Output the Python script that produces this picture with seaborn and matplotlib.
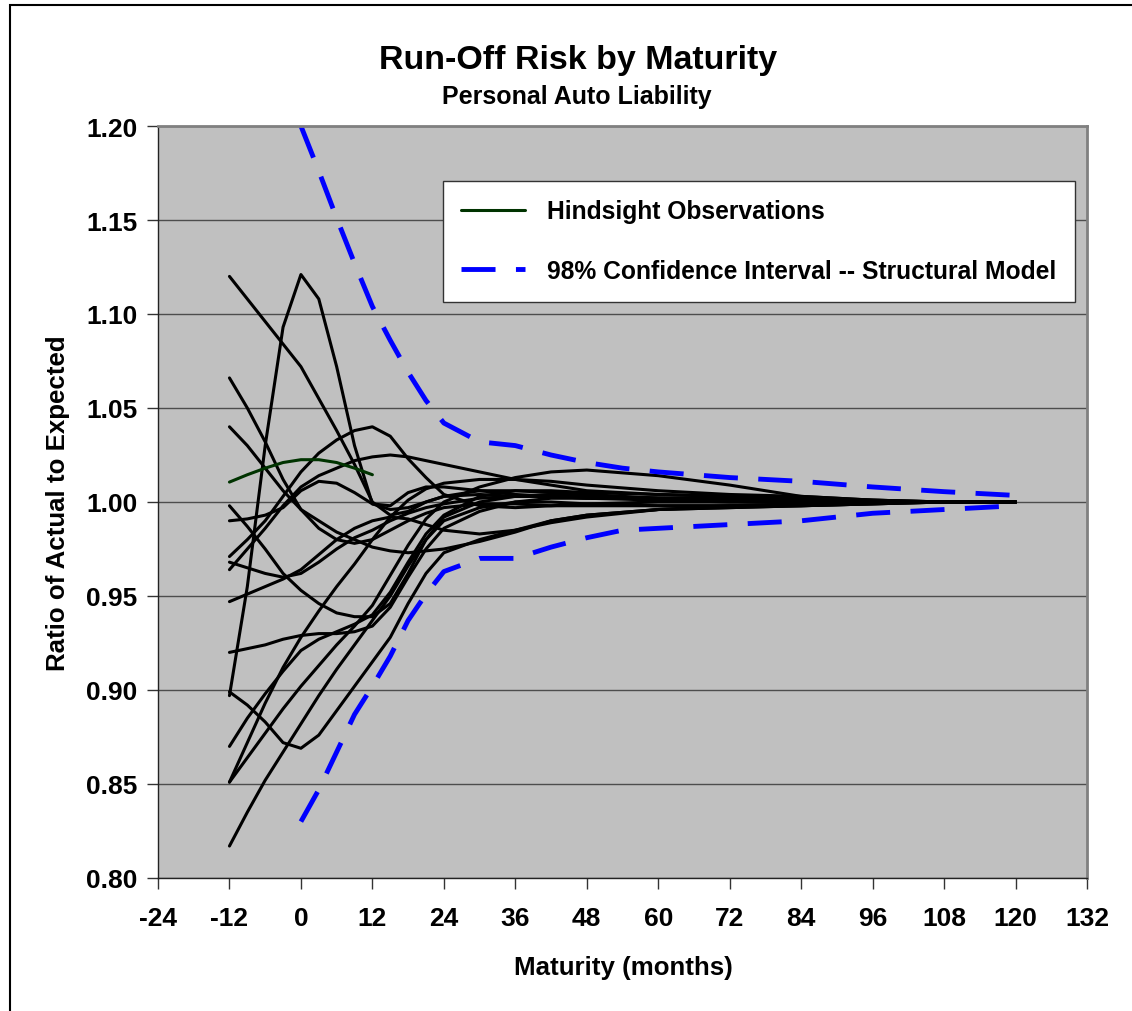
import numpy as np
import pandas as pd
import matplotlib
matplotlib.use("Agg")
import matplotlib.pyplot as plt
from matplotlib.lines import Line2D
from matplotlib.patches import Rectangle
import seaborn as sns

# meses de maduración (trimestral hasta 24, luego más espaciado)
months_obs = [-12, -9, -6, -3, 0, 3, 6, 9, 12, 15, 18, 21, 24, 30, 36, 42, 48, 60, 72, 84, 96, 108, 120]

obs_01 = [1.120, 1.108, 1.096, 1.084, 1.072, 1.055, 1.038, 1.020, 1.000, 0.993, 0.995, 1.000, 1.003, 1.006, 1.006, 1.005, 1.004, 1.002, 1.001, 1.000, 1.000, 1.000, 1.000]
obs_02 = [1.066, 1.050, 1.032, 1.012, 0.996, 0.986, 0.980, 0.978, 0.980, 0.985, 0.990, 0.994, 0.997, 0.999, 0.999, 0.998, 0.998, 0.998, 0.998, 0.999, 1.000, 1.000, 1.000]
obs_03 = [1.040, 1.030, 1.018, 1.006, 0.996, 0.990, 0.984, 0.980, 0.976, 0.974, 0.973, 0.974, 0.975, 0.979, 0.984, 0.990, 0.993, 0.996, 0.997, 0.998, 0.999, 1.000, 1.000]
obs_04 = [0.897, 0.955, 1.030, 1.093, 1.121, 1.108, 1.072, 1.030, 0.999, 0.998, 1.005, 1.008, 1.008, 1.006, 1.004, 1.003, 1.002, 1.001, 1.000, 1.000, 1.000, 1.000, 1.000]
obs_05 = [0.998, 0.987, 0.975, 0.962, 0.953, 0.946, 0.941, 0.939, 0.939, 0.946, 0.962, 0.980, 0.992, 1.000, 1.003, 1.004, 1.003, 1.002, 1.001, 1.000, 1.000, 1.000, 1.000]
obs_06 = [0.990, 0.991, 0.993, 0.997, 1.006, 1.011, 1.010, 1.005, 0.999, 0.996, 0.997, 1.000, 1.003, 1.004, 1.003, 1.003, 1.002, 1.002, 1.002, 1.001, 1.000, 1.000, 1.000]
obs_07 = [0.971, 0.980, 0.990, 1.003, 1.016, 1.026, 1.033, 1.038, 1.040, 1.035, 1.023, 1.013, 1.004, 0.998, 0.997, 0.998, 0.999, 1.000, 1.000, 1.000, 1.000, 1.000, 1.000]
obs_08 = [0.968, 0.965, 0.962, 0.960, 0.962, 0.968, 0.975, 0.981, 0.985, 0.990, 0.994, 0.997, 0.999, 1.002, 1.003, 1.003, 1.003, 1.002, 1.002, 1.001, 1.000, 1.000, 1.000]
obs_09 = [0.964, 0.975, 0.986, 0.998, 1.008, 1.014, 1.018, 1.022, 1.024, 1.025, 1.024, 1.022, 1.020, 1.016, 1.012, 1.009, 1.006, 1.004, 1.003, 1.001, 1.000, 1.000, 1.000]
obs_10 = [0.947, 0.951, 0.955, 0.959, 0.964, 0.972, 0.980, 0.986, 0.990, 0.992, 0.991, 0.988, 0.985, 0.983, 0.985, 0.989, 0.992, 0.996, 0.997, 0.998, 0.999, 1.000, 1.000]
obs_11 = [0.920, 0.922, 0.924, 0.927, 0.929, 0.930, 0.930, 0.931, 0.934, 0.944, 0.960, 0.975, 0.986, 0.995, 1.000, 1.002, 1.002, 1.002, 1.002, 1.001, 1.000, 1.000, 1.000]
obs_12 = [0.899, 0.892, 0.883, 0.872, 0.869, 0.876, 0.889, 0.902, 0.915, 0.928, 0.946, 0.962, 0.973, 0.980, 0.985, 0.990, 0.993, 0.996, 0.998, 0.998, 0.999, 1.000, 1.000]
obs_13 = [0.870, 0.885, 0.898, 0.910, 0.921, 0.927, 0.931, 0.935, 0.940, 0.952, 0.968, 0.983, 0.993, 1.003, 1.006, 1.006, 1.005, 1.004, 1.003, 1.002, 1.001, 1.000, 1.000]
obs_14 = [0.851, 0.872, 0.893, 0.912, 0.928, 0.942, 0.955, 0.967, 0.980, 0.992, 1.001, 1.007, 1.010, 1.012, 1.012, 1.011, 1.009, 1.006, 1.004, 1.003, 1.001, 1.000, 1.000]
obs_15 = [0.851, 0.864, 0.877, 0.890, 0.902, 0.913, 0.924, 0.934, 0.945, 0.961, 0.977, 0.991, 1.000, 1.008, 1.013, 1.016, 1.017, 1.014, 1.009, 1.003, 1.001, 1.000, 1.000]
obs_16 = [0.817, 0.835, 0.852, 0.867, 0.882, 0.897, 0.911, 0.924, 0.937, 0.950, 0.966, 0.980, 0.990, 0.997, 1.000, 1.000, 0.999, 0.998, 0.998, 0.999, 1.000, 1.000, 1.000]

# la única serie verde (solo hasta 12 meses)
months_green = [-12, -9, -6, -3, 0, 3, 6, 9, 12]
green_obs = [1.0106, 1.0145, 1.018, 1.021, 1.0225, 1.0225, 1.021, 1.018, 1.0145]

# intervalo de confianza del 98%
months_ci = [0, 3, 6, 9, 12, 15, 18, 21, 24, 30, 36, 42, 48, 54, 60, 72, 84, 96, 108, 120]
ci_upper = [1.200, 1.176, 1.151, 1.127, 1.104, 1.086, 1.069, 1.054, 1.042, 1.032, 1.030, 1.025, 1.021, 1.018, 1.016, 1.013, 1.011, 1.008, 1.0055, 1.0035]
ci_lower = [0.830, 0.847, 0.867, 0.887, 0.902, 0.918, 0.937, 0.951, 0.963, 0.970, 0.970, 0.976, 0.981, 0.985, 0.986, 0.988, 0.990, 0.994, 0.996, 0.998]

x_ticks = [-24, -12, 0, 12, 24, 36, 48, 60, 72, 84, 96, 108, 120, 132]
y_ticks = [0.80, 0.85, 0.90, 0.95, 1.00, 1.05, 1.10, 1.15, 1.20]


def graficoRunOff():
    """
    Dibuja el gráfico de riesgo de run-off por maduración y lo guarda en out.png.
    """
    sns.set_style("ticks")
    plt.rcParams['font.family'] = ['Liberation Sans', 'DejaVu Sans']
    plt.rcParams['font.weight'] = 'bold'
    plt.rcParams['text.color'] = 'black'
    plt.rcParams['xtick.color'] = 'black'
    plt.rcParams['ytick.color'] = 'black'
    plt.rcParams['axes.unicode_minus'] = False

    series = [obs_01, obs_02, obs_03, obs_04, obs_05, obs_06, obs_07, obs_08,
              obs_09, obs_10, obs_11, obs_12, obs_13, obs_14, obs_15, obs_16]
    df = pd.DataFrame({
        'month': np.tile(months_obs, len(series)),
        'ratio': np.concatenate(series),
        'serie': np.repeat(np.arange(len(series)), len(months_obs)),
    })

    fig = plt.figure(figsize=(11.32, 10.12), dpi=100)
    ax = fig.add_axes([158 / 1132, 1 - 879 / 1012, 929 / 1132, 752 / 1012])
    ax.set_facecolor('#C0C0C0')

    sns.lineplot(data=df, x='month', y='ratio', units='serie', estimator=None,
                 color='black', lw=2.2, ax=ax, legend=False)
    sns.lineplot(x=months_green, y=green_obs, color='#003300', lw=2.2, ax=ax)
    for ci in (ci_upper, ci_lower):
        sns.lineplot(x=months_ci, y=ci, color='#0000FF', lw=3.5,
                     linestyle=(0, (7, 4.2)), ax=ax)

    ax.set_xlim(-24, 132)
    ax.set_ylim(0.80, 1.20)
    ax.set_xticks(x_ticks)
    ax.set_xticklabels([str(m) for m in x_ticks])
    ax.set_yticks(y_ticks)
    ax.set_yticklabels([f'{v:.2f}' for v in y_ticks])
    ax.tick_params(axis='both', labelsize=19, length=8, width=1, color='#333333')
    ax.tick_params(axis='y', pad=7)
    ax.tick_params(axis='x', pad=12)
    ax.yaxis.grid(True, color='#4d4d4d', lw=1.0)
    ax.set_axisbelow(True)
    for lado in ['top', 'right']:
        ax.spines[lado].set_color('#808080')
        ax.spines[lado].set_linewidth(2)
    for lado in ['left', 'bottom']:
        ax.spines[lado].set_color('#222222')
        ax.spines[lado].set_linewidth(1)
    ax.set_xlabel('')
    ax.set_ylabel('')

    fig.text(0.5106, 0.9407, 'Run-Off Risk by Maturity', ha='center', va='center',
             fontsize=24.5, fontweight='bold')
    fig.text(0.5097, 0.9042, 'Personal Auto Liability', ha='center', va='center',
             fontsize=18, fontweight='bold')
    fig.text(0.0512, 0.503, 'Ratio of Actual to Expected', ha='center', va='center',
             rotation=90, fontsize=18.6, fontweight='bold')
    fig.text(0.551, 0.0435, 'Maturity (months)', ha='center', va='center',
             fontsize=18.6, fontweight='bold')

    handles = [Line2D([], [], color='#003300', lw=2.2),
               Line2D([], [], color='#0000FF', lw=3.5, linestyle=(0, (7, 4.2)))]
    leg = ax.legend(handles, ['Hindsight Observations',
                              '98% Confidence Interval -- Structural Model'],
                    loc='upper right', bbox_to_anchor=(1075 / 1132, 1 - 182 / 1012),
                    bbox_transform=fig.transFigure, fontsize=17.7, frameon=True,
                    fancybox=False, framealpha=1, edgecolor='#333333',
                    handlelength=2.6, handletextpad=0.9, labelspacing=1.45,
                    borderpad=0.75, borderaxespad=0)
    leg.get_frame().set_linewidth(1)

    # borde del área del gráfico (solo se ven el lado izquierdo y el superior)
    fig.add_artist(Rectangle((10 / 1132, -0.5), 2, 1.5 - 6 / 1012,
                             transform=fig.transFigure, fill=False,
                             edgecolor='black', lw=1.5))

    fig.savefig('out.png', dpi=100)


graficoRunOff()
